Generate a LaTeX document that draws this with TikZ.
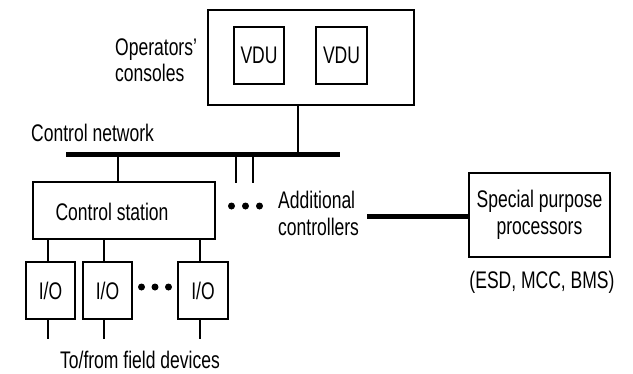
\documentclass[tikz,border=0pt]{standalone}
\usepackage{fontspec}
\setmainfont{Liberation Sans}[FakeStretch=0.73]
\begin{document}
\begin{tikzpicture}[x=1pt,y=-1pt,
  box/.style={draw,line width=1.3pt,inner sep=0pt,rectangle},
  lbl/.style={inner sep=0pt,font=\fontsize{24}{26.5}\selectfont},
  wire/.style={line width=1.3pt},
  bus/.style={line width=5pt},
  dot/.style={circle,fill,inner sep=0pt,minimum size=7pt}]
\useasboundingbox (0,0) rectangle (633,373);
% operators' consoles
\node[box,minimum width=206pt,minimum height=95pt] (console) at (311,57.5) {};
\node[box,minimum width=50pt,minimum height=57pt,lbl] (vdu1) at (259,55.5) {VDU};
\node[box,minimum width=51pt,minimum height=57pt,lbl] (vdu2) at (341.5,55.5) {VDU};
\node[lbl,anchor=west,align=left] (optxt) at (115,60) {Operators'\\consoles};
% control network
\node[lbl,anchor=west] (nettxt) at (31,133) {Control network};
\coordinate (busL) at (66,154);
\coordinate (busR) at (340,154);
\draw[bus] (busL) -- (busR);
\draw[wire] (console.south -| 298,0) -- (298,154);
% control station
\node[box,minimum width=182pt,minimum height=57pt] (cs) at (124,210.5) {};
\node[lbl] (cstxt) at (112,212) {Control station};
\draw[wire] (cs.north -| 118,0) -- (118,154);
% I/O
\node[box,minimum width=49pt,minimum height=57pt,lbl] (io1) at (50.5,290.5) {I/O};
\node[box,minimum width=49pt,minimum height=57pt,lbl] (io2) at (107.5,290.5) {I/O};
\node[box,minimum width=50pt,minimum height=57pt,lbl] (io3) at (203,290.5) {I/O};
\draw[wire] (io1.north -| 48,0) -- (48,239);
\draw[wire] (io2.north -| 104,0) -- (104,239);
\draw[wire] (io3.north -| 200,0) -- (200,239);
\coordinate (f1) at (48,339);
\coordinate (f2) at (104,339);
\coordinate (f3) at (200,339);
\draw[wire] (io1.south -| f1) -- (f1);
\draw[wire] (io2.south -| f2) -- (f2);
\draw[wire] (io3.south -| f3) -- (f3);
\node[dot] (d1) at (141.5,287) {};
\node[dot] (d2) at (155,287) {};
\node[dot] (d3) at (168.5,287) {};
\node[lbl] (fieldtxt) at (140,360) {To/from field devices};
% additional controllers
\coordinate (a1) at (236,183);
\coordinate (a2) at (253,183);
\draw[wire] (a1 |- 0,154) -- (a1);
\draw[wire] (a2 |- 0,154) -- (a2);
\node[dot] (e1) at (231.5,206) {};
\node[dot] (e2) at (245.5,206) {};
\node[dot] (e3) at (259.5,206) {};
\node[lbl,anchor=west,align=left] (addtxt) at (278,213.5) {Additional\\controllers};
% special purpose processors
\node[box,minimum width=141pt,minimum height=84pt,lbl,align=center] (spp) at (539.5,215) {Special purpose\\processors};
\draw[bus] (367,216) -- (spp.west |- 0,216);
\node[lbl] (esdtxt) at (542,282) {(ESD, MCC, BMS)};
\end{tikzpicture}
\end{document}
